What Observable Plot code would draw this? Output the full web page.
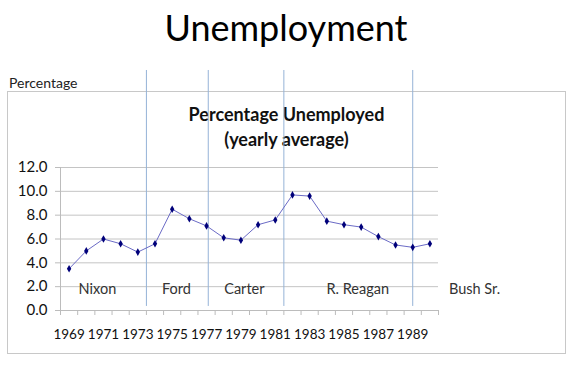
<!DOCTYPE html>
<html><head><meta charset="utf-8">
<script src="https://cdn.jsdelivr.net/npm/d3@7"></script>
<script src="https://cdn.jsdelivr.net/npm/@observablehq/plot@0.6"></script>
<style>
body{margin:0;background:#fff;font-family:Lato,sans-serif;}
#wrap{position:relative;width:576px;height:365px;overflow:hidden;}
#box{position:absolute;left:7px;top:91px;width:557px;height:261px;border:1px solid #c8c8c8;}
#title{position:absolute;left:0;width:572px;top:9px;text-align:center;font-size:36px;line-height:36px;color:#000;}
#ylab{position:absolute;left:9px;top:76px;font-size:14px;line-height:14px;color:#222;}
#sub{position:absolute;left:0;width:573px;top:102px;text-align:center;font-weight:bold;font-size:18px;line-height:25px;color:#111;}
#chart{position:absolute;left:0;top:0;}
</style></head>
<body><div id="wrap"><div id="box"></div><div id="title">Unemployment</div><div id="ylab">Percentage</div><div id="sub">Percentage Unemployed<br>(yearly average)</div><div id="chart"></div></div>
<script>
const years = [1969,1970,1971,1972,1973,1974,1975,1976,1977,1978,1979,1980,1981,1982,1983,1984,1985,1986,1987,1988,1989,1990];
const rates = [3.5,5.0,6.0,5.6,4.9,5.6,8.5,7.7,7.1,6.1,5.9,7.2,7.6,9.7,9.6,7.5,7.2,7.0,6.2,5.5,5.3,5.6];
const yTicks = [0,2,4,6,8,10,12];
const yearLabels = [1969,1971,1973,1975,1977,1979,1981,1983,1985,1987,1989];
const presidents = ["Nixon","Ford","Carter","R. Reagan","Bush Sr."];
const presidentLabelYear = [1970.65,1975.25,1979.2,1985.8,1992.6];
const termChanges = [1973.5,1977.1,1981.5,1989];

const data = years.map((year,i)=>({year, rate: rates[i]}));
const boundaries = years.map(y=>y-0.5).concat([years[years.length-1]+0.5]);

const chart = Plot.plot({
  width:576, height:365,
  marginLeft:60, marginRight:138, marginTop:167, marginBottom:55,
  style:{background:"transparent", fontFamily:"Lato, sans-serif", overflow:"visible"},
  x:{domain:[boundaries[0], boundaries[boundaries.length-1]]},
  y:{domain:[0,12]},
  marks:[
    Plot.ruleY(yTicks.filter(d=>d>0), {stroke:"#c4c4c4"}),
    Plot.ruleX(termChanges, {y1:0.34, y2:20.14, stroke:"#95b3d7"}),
    Plot.ruleY([0], {stroke:"#bcbcbc"}),
    Plot.ruleX([boundaries[0]], {y1:0, y2:12, stroke:"#bcbcbc"}),
    Plot.axisY({ticks:yTicks, tickSize:5, tickPadding:8, tickFormat:d3.format(".1f"), fontSize:15, stroke:"#bcbcbc", fill:"#111", label:null}),
    Plot.axisX({ticks:boundaries, tickSize:5, tickFormat:()=>"", stroke:"#bcbcbc", label:null}),
    Plot.axisX({ticks:yearLabels, tickSize:0, tickPadding:19, tickFormat:d=>String(d), fontSize:13.5, fill:"#111", label:null}),
    Plot.text(presidents, {x:(d,i)=>presidentLabelYear[i], frameAnchor:"bottom", dy:-17, text:d=>d, fontSize:14.5, fill:"#333"}),
    Plot.line(data, {x:"year", y:"rate", stroke:"#6b6bc6", strokeWidth:1}),
    Plot.dot(data, {x:"year", y:"rate", symbol:"diamond", r:2.3, fill:"#00007a", stroke:"none"})
  ]
});
document.getElementById("chart").appendChild(chart);
</script>
</body></html>
